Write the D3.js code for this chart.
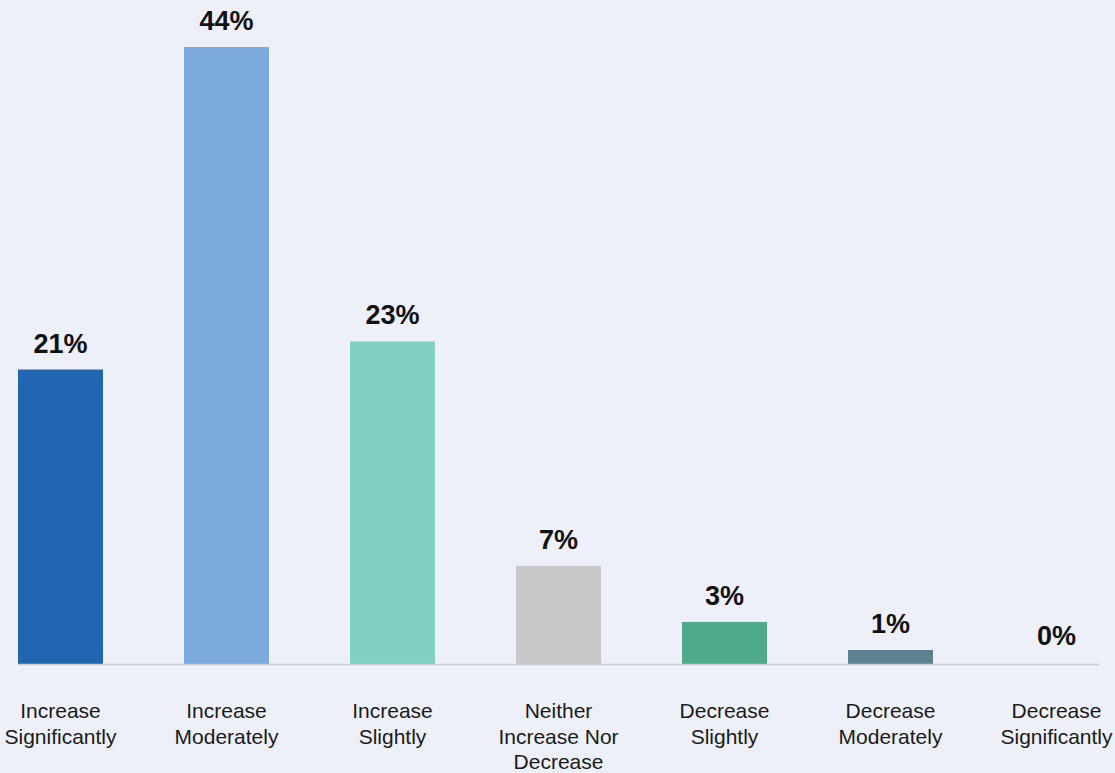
<!DOCTYPE html>
<html>
<head>
<meta charset="utf-8">
<script src="https://cdn.jsdelivr.net/npm/d3@7/dist/d3.min.js"></script>
<style>
  html, body { margin: 0; padding: 0; background: #edf0f8; }
  svg { display: block; }
</style>
</head>
<body>
<svg id="chart" width="1115" height="773"></svg>
<script>
// Survey responses: expected change, share of respondents (%)
const categories = [
  ["Increase", "Significantly"],
  ["Increase", "Moderately"],
  ["Increase", "Slightly"],
  ["Neither", "Increase Nor", "Decrease"],
  ["Decrease", "Slightly"],
  ["Decrease", "Moderately"],
  ["Decrease", "Significantly"]
];
const values = [21, 44, 23, 7, 3, 1, 0];
const barColors = ["#2266b1", "#7aabdc", "#82cfc5", "#c8c8c9", "#4fa98b", "#5d8094", "#5d8094"];

const svg = d3.select("#chart");
const W = 1115, H = 773;
const baseY = 664;

svg.append("rect").attr("width", W).attr("height", H).attr("fill", "#edf0f8");

const keys = categories.map((c, i) => i);
const x = d3.scaleBand().domain(keys).range([18, 1099]).paddingInner(0.488).paddingOuter(0);
const y = d3.scaleLinear().domain([0, 44]).range([baseY, 47]);

// Bars
svg.append("g").selectAll("rect")
  .data(values)
  .join("rect")
  .attr("x", (d, i) => x(i))
  .attr("y", d => y(d))
  .attr("width", x.bandwidth())
  .attr("height", d => baseY - y(d))
  .attr("fill", (d, i) => barColors[i]);

// Baseline
svg.append("line")
  .attr("x1", 18).attr("x2", 1099)
  .attr("y1", baseY + 0.5).attr("y2", baseY + 0.5)
  .attr("stroke", "#cccdd2").attr("stroke-width", 1.5);

// Value labels
svg.append("g").selectAll("text")
  .data(values)
  .join("text")
  .attr("x", (d, i) => x(i) + x.bandwidth() / 2)
  .attr("y", d => y(d) - (d === 0 ? 19 : 17))
  .attr("text-anchor", "middle")
  .attr("font-family", "'Liberation Sans', Arial, sans-serif")
  .attr("font-weight", "bold")
  .attr("font-size", 27)
  .attr("fill", "#111")
  .text(d => d + "%");

// Category labels
const catG = svg.append("g")
  .attr("font-family", "'Liberation Sans', Arial, sans-serif")
  .attr("font-size", 21)
  .attr("fill", "#1a1a1a")
  .attr("text-anchor", "middle");

categories.forEach((lines, i) => {
  const t = catG.append("text")
    .attr("x", x(i) + x.bandwidth() / 2)
    .attr("y", 718);
  lines.forEach((ln, j) => {
    t.append("tspan")
      .attr("x", x(i) + x.bandwidth() / 2)
      .attr("dy", j === 0 ? 0 : 25.5)
      .text(ln);
  });
});
</script>
</body>
</html>
